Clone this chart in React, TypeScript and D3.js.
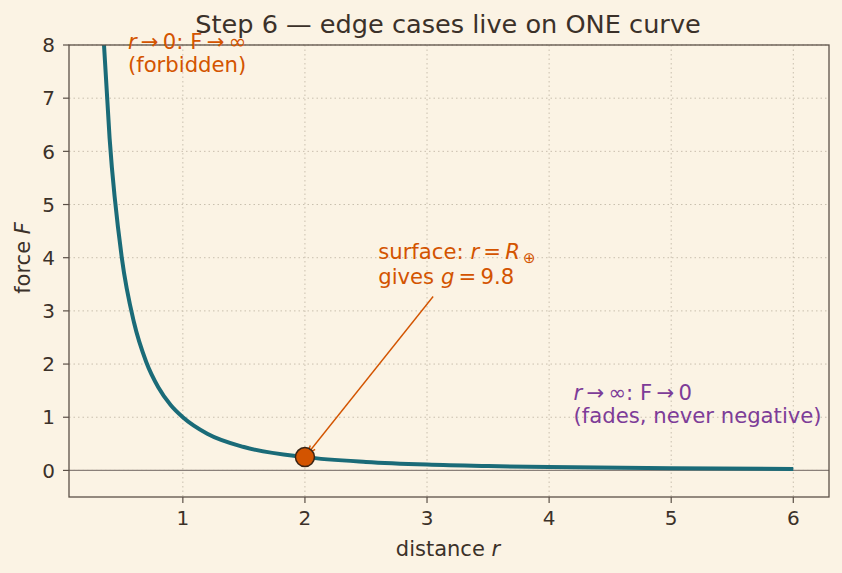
import React from "react";
import * as d3 from "d3";

// points
const rValues = [0.35, 0.4, 0.5, 0.6, 0.7, 0.8, 0.9, 1, 1.2, 1.5, 2, 2.5, 3, 3.5, 4, 5, 6];
const forceValues = [8.16, 6.25, 4.0, 2.78, 2.04, 1.56, 1.23, 1.0, 0.69, 0.44, 0.25, 0.16, 0.11, 0.082, 0.063, 0.04, 0.028];
const xTicks = [1, 2, 3, 4, 5, 6];
const yTicks = [0, 1, 2, 3, 4, 5, 6, 7, 8];
const surfacePoint = { r: 2, f: 0.25 };

const W = 842;
const H = 573;
const margin = { top: 45, right: 13, bottom: 76, left: 69 };

const bg = "#fbf3e4";
const ink = "#3b3129";
const spine = "#5b5047";
const curveColor = "#1a6b78";
const orange = "#d35400";
const purple = "#7d3c98";
const font = "DejaVu Sans, sans-serif";
const th = "\u2009";

export default function App() {
  const innerW = W - margin.left - margin.right;
  const innerH = H - margin.top - margin.bottom;

  const x = d3.scaleLinear().domain([0.0675, 6.2925]).range([0, innerW]);
  const y = d3.scaleLinear().domain([-0.5, 8]).range([innerH, 0]);

  const pts = rValues.map((r, i) => [r, forceValues[i]] as [number, number]);
  const line = d3
    .line<[number, number]>()
    .x((d) => x(d[0]))
    .y((d) => y(d[1]))
    .curve(d3.curveMonotoneX);

  const px = x(surfacePoint.r);
  const py = y(surfacePoint.f);
  // arrow from text to point
  const ax0 = x(3.05);
  const ay0 = y(3.27);
  const ang = Math.atan2(py - ay0, px - ax0);
  const ax1 = px + Math.cos(ang + Math.PI) * 4;
  const ay1 = py + Math.sin(ang + Math.PI) * 4;
  const head = 9;
  const spread = 0.35;
  const h1 = [ax1 - head * Math.cos(ang - spread), ay1 - head * Math.sin(ang - spread)];
  const h2 = [ax1 - head * Math.cos(ang + spread), ay1 - head * Math.sin(ang + spread)];

  return (
    <svg width={W} height={H} style={{ display: "block", position: "absolute", left: 0, top: 0, background: bg }} fontFamily={font}>
      <rect width={W} height={H} fill={bg} />
      <text x={448} y={33} textAnchor="middle" fontSize={25.6} fill={ink}>
        Step 6 — edge cases live on ONE curve
      </text>
      <defs>
        <clipPath id="plot">
          <rect width={innerW} height={innerH} />
        </clipPath>
      </defs>
      <g transform={`translate(${margin.left},${margin.top})`}>
        {xTicks.map((t) => (
          <line key={"gx" + t} x1={x(t)} x2={x(t)} y1={0} y2={innerH} stroke="#c9bfae" strokeWidth={1} strokeDasharray="1.5,3" />
        ))}
        {yTicks.map((t) => (
          <line key={"gy" + t} x1={0} x2={innerW} y1={y(t)} y2={y(t)} stroke="#c9bfae" strokeWidth={1} strokeDasharray="1.5,3" />
        ))}
        <line x1={0} x2={innerW} y1={y(0)} y2={y(0)} stroke="#8a8079" strokeWidth={1.2} />
        <g clipPath="url(#plot)">
          <path d={line(pts) ?? ""} fill="none" stroke={curveColor} strokeWidth={4} />
        </g>
        <line x1={ax0} y1={ay0} x2={ax1} y2={ay1} stroke={orange} strokeWidth={1.4} />
        <polyline points={`${h1[0]},${h1[1]} ${ax1},${ay1} ${h2[0]},${h2[1]}`} fill="none" stroke={orange} strokeWidth={1.4} />
        <circle cx={px} cy={py} r={9.5} fill={orange} stroke="#3a2414" strokeWidth={1.5} />

        <rect width={innerW} height={innerH} fill="none" stroke={spine} strokeWidth={1.3} />
        {xTicks.map((t) => (
          <g key={"tx" + t} transform={`translate(${x(t)},${innerH})`}>
            <line y2={6} stroke={spine} strokeWidth={1.2} />
            <text y={28} textAnchor="middle" fontSize={20} fill={ink}>{t}</text>
          </g>
        ))}
        {yTicks.map((t) => (
          <g key={"ty" + t} transform={`translate(0,${y(t)})`}>
            <line x2={-6} stroke={spine} strokeWidth={1.2} />
            <text x={-14} dy="0.36em" textAnchor="end" fontSize={20} fill={ink}>{t}</text>
          </g>
        ))}

        <g fontSize={21.2} fill={orange}>
          <text x={x(0.55)} y={y(7.5) - 22.5}>
            <tspan fontStyle="italic">r</tspan>
            <tspan>{th}→{th}0: F{th}→{th}∞</tspan>
          </text>
          <text x={x(0.55)} y={y(7.5)}>(forbidden)</text>
          <text x={x(2.6)} y={y(3.5) - 25}>
            <tspan>surface: </tspan>
            <tspan fontStyle="italic">r</tspan>
            <tspan>{th}={th}</tspan>
            <tspan fontStyle="italic">R</tspan>
            <tspan fontSize={15} dx={3} dy={4}>⊕</tspan>
          </text>
          <text x={x(2.6)} y={y(3.5)}>
            <tspan>gives </tspan>
            <tspan fontStyle="italic">g</tspan>
            <tspan>{th}={th}9.8</tspan>
          </text>
        </g>
        <g fontSize={21.2} fill={purple}>
          <text x={x(4.2)} y={y(0.9) - 22.5}>
            <tspan fontStyle="italic">r</tspan>
            <tspan>{th}→{th}∞: F{th}→{th}0</tspan>
          </text>
          <text x={x(4.2)} y={y(0.9)}>(fades, never negative)</text>
        </g>
      </g>
      <text x={448} y={556} textAnchor="middle" fontSize={21} fill={ink}>
        distance <tspan fontStyle="italic">r</tspan>
      </text>
      <text transform={`translate(30,258) rotate(-90)`} textAnchor="middle" fontSize={21} fill={ink}>
        force <tspan fontStyle="italic">F</tspan>
      </text>
    </svg>
  );
}
